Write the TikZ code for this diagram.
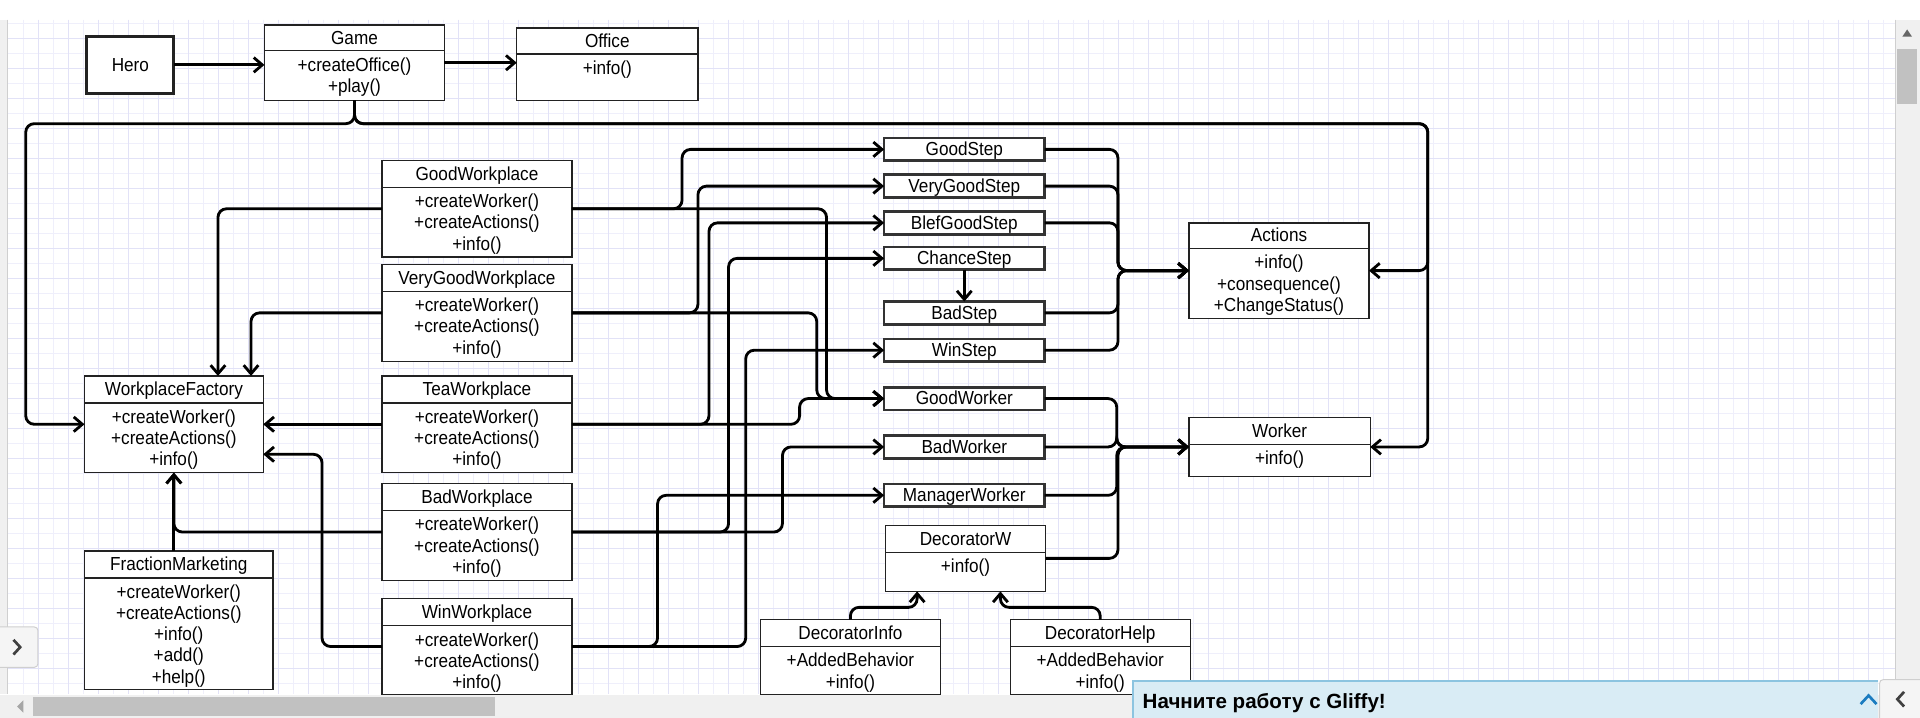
\documentclass[tikz,border=0pt]{standalone}
\usepackage{fontspec}
\setmainfont{Liberation Sans}[FakeStretch=0.91]
\newfontfamily\bannerfont{Liberation Sans}
\usetikzlibrary{arrows.meta,calc,fit}
\definecolor{gridminor}{HTML}{EFEFFB}
\definecolor{gridmajor}{HTML}{E2E2F7}
\definecolor{boxline}{HTML}{222222}
\definecolor{stepline}{HTML}{333333}
\definecolor{bannerbg}{HTML}{D9ECF5}
\definecolor{bannerline}{HTML}{8CC4E0}
\definecolor{caretblue}{HTML}{1B7CC0}
\definecolor{trackgray}{HTML}{F0F0F0}
\definecolor{thumbgray}{HTML}{C1C1C1}
\definecolor{edgegray}{HTML}{CFCFCF}
\newcommand\umlclass[8]{%
  \node[umlbox, fit={(#2,#3) (#4,#5)}] (#1) {};
  \draw[umlsep] (#2,#6) -- (#4,#6);
  \node[txt] (#1-title) at ({(#2+#4)/2},{(#3+#6)/2}) {#7};
  \foreach \t [count=\i from 0] in {#8} {
    \node[txt] (#1-l\i) at ({(#2+#4)/2},{#6+11.5+17.3*\i}) {\t};
  }
}
\begin{document}
\begin{tikzpicture}[x=1pt,y=-1pt,
  txt/.style={font=\fontsize{15.4}{17.3}\selectfont, inner sep=0pt, text height=11pt, text depth=0.8pt},
  umlbox/.style={draw=boxline, line width=1.1pt, fill=white, inner sep=0pt, outer sep=0pt},
  umlsep/.style={draw=boxline, line width=1.1pt},
  herobox/.style={draw=boxline, line width=2.4pt, fill=white, inner sep=0pt, outer sep=0pt},
  stepbox/.style={txt, draw=stepline, line width=2.2pt, fill=white, minimum width=131pt, minimum height=18.5pt, outer sep=0pt},
  conn/.style={draw=black, line width=2.3pt, rounded corners=7pt, -{Straight Barb[length=7pt,width=12pt]}}
]
\useasboundingbox (0,0) rectangle (1568,586);
\fill[white] (0,0) rectangle (1568,586);
% grid
\foreach \k in {1,...,125} \draw[gridminor, line width=0.8pt] ({6.78+12.25*\k},16.3) -- ({6.78+12.25*\k},567);
\foreach \k in {1,...,45} \draw[gridminor, line width=0.8pt] (6.5,{6.78+12.25*\k}) -- (1548,{6.78+12.25*\k});
\foreach \k in {2,4,...,124} \draw[gridmajor, line width=0.9pt] ({6.78+12.25*\k},16.3) -- ({6.78+12.25*\k},567);
\foreach \k in {2,4,...,44} \draw[gridmajor, line width=0.9pt] (6.5,{6.78+12.25*\k}) -- (1548,{6.78+12.25*\k});

% ---------- nodes ----------
\node[herobox, txt, fit={(71,30) (142,76)}] (hero) {};
\node[txt] (hero-title) at (hero.center) {Hero};
\umlclass{game}{216}{20.5}{363}{82}{41.5}{Game}{{+createOffice()},{+play()}}
\umlclass{office}{422}{23}{570}{82}{44}{Office}{{+info()}}

\umlclass{goodwp}{312}{131}{467}{210}{153}{GoodWorkplace}{{+createWorker()},{+createActions()},{+info()}}
\umlclass{vgwp}{312}{216}{467}{295}{238}{VeryGoodWorkplace}{{+createWorker()},{+createActions()},{+info()}}
\umlclass{teawp}{312}{307}{467}{386}{329}{TeaWorkplace}{{+createWorker()},{+createActions()},{+info()}}
\umlclass{badwp}{312}{395}{467}{474}{417}{BadWorkplace}{{+createWorker()},{+createActions()},{+info()}}
\umlclass{winwp}{312}{489}{467}{567}{511}{WinWorkplace}{{+createWorker()},{+createActions()},{+info()}}

\umlclass{wf}{69}{307}{215}{386}{329}{WorkplaceFactory}{{+createWorker()},{+createActions()},{+info()}}
\umlclass{fm}{69}{450}{223}{563}{472}{FractionMarketing}{{+createWorker()},{+createActions()},{+info()},{+add()},{+help()}}

\umlclass{actions}{971}{182}{1118}{260}{203}{Actions}{{+info()},{+consequence()},{+ChangeStatus()}}
\umlclass{worker}{971}{341}{1119}{389}{363}{Worker}{{+info()}}

\umlclass{decw}{723}{429}{854}{483}{451}{DecoratorW}{{+info()}}
\umlclass{decinfo}{621}{506}{768}{567}{528}{DecoratorInfo}{{+AddedBehavior},{+info()}}
\umlclass{dechelp}{825}{506}{972}{567}{528}{DecoratorHelp}{{+AddedBehavior},{+info()}}

\node[stepbox] (goodstep) at (787.5,122) {GoodStep};
\node[stepbox] (vgstep) at (787.5,152) {VeryGoodStep};
\node[stepbox] (blefstep) at (787.5,182) {BlefGoodStep};
\node[stepbox] (chancestep) at (787.5,211) {ChanceStep};
\node[stepbox] (badstep) at (787.5,255.5) {BadStep};
\node[stepbox] (winstep) at (787.5,286) {WinStep};
\node[stepbox] (goodworker) at (787.5,325.5) {GoodWorker};
\node[stepbox] (badworker) at (787.5,365) {BadWorker};
\node[stepbox] (managerworker) at (787.5,404.5) {ManagerWorker};

% ---------- connectors ----------
\coordinate (busL) at (21,101);
\coordinate (busR) at (1166,101);
\draw[conn] (hero.east) -- (hero.east -| game.west);
\draw[conn] (game.east) -- (game.east -| office.west);
\draw[conn] (game.south) |- (busL) |- (wf.west);
\draw[conn] (game.south) |- (busR) |- (actions.east);
\draw[conn] (game.south) |- (busR) |- (worker.east);

\draw[conn] (goodwp.west) -| ($(wf.north)+(36,0)$);
\draw[conn] (vgwp.west) -| ($(wf.north)+(63,0)$);
\draw[conn] (teawp.west) -- (wf.east);
\draw[conn] (badwp.west) -| (wf.south);
\draw[conn] (fm.north -| wf.south) -- (wf.south);
\draw[conn] (winwp.west) -- ++(-49,0) |- ($(wf.east)+(0,24.5)$);

\draw[conn] (goodwp.east) -- ++(90,0) |- (goodstep.west);
\draw[conn] (goodwp.east) -- ++(208,0) |- (goodworker.west);
\draw[conn] (vgwp.east) -- ++(103,0) |- (vgstep.west);
\draw[conn] (vgwp.east) -- ++(200,0) |- (goodworker.west);
\draw[conn] (teawp.east) -- ++(112,0) |- (blefstep.west);
\draw[conn] (teawp.east) -- ++(186,0) |- (goodworker.west);
\draw[conn] (badwp.east) -- ++(128,0) |- (chancestep.west);
\draw[conn] (badwp.east) -- ++(172,0) |- (badworker.west);
\draw[conn] (winwp.east) -- ++(142,0) |- (winstep.west);
\draw[conn] (winwp.east) -- ++(70,0) |- (managerworker.west);

\draw[conn] (chancestep.south) -- (badstep.north);

\foreach \s in {goodstep,vgstep,blefstep,badstep,winstep}
  \draw[conn] (\s.east) -- ++(60,0) |- (actions.west);
\foreach \s in {goodworker,badworker,managerworker,decw}
  \draw[conn] (\s.east) -- ++(59,0) |- (worker.west);

\draw[conn] (decinfo.north) -- ++(0,-10) -| ($(decw.south)+(-39.5,0)$);
\draw[conn] (dechelp.north) -- ++(0,-10) -| ($(decw.south)+(28.5,0)$);

% ---------- window chrome ----------
\fill[trackgray] (0,16) rectangle (6,567);
\draw[edgegray, line width=0.8pt] (6,16) -- (6,567);
% vertical scrollbar
\fill[trackgray] (1548,16) rectangle (1568,556);
\draw[edgegray, line width=0.6pt] (1548,16) -- (1548,556);
\fill[thumbgray] (1549.5,40) rectangle (1565.5,85);
\fill[gray!80!black] (1553.5,30) -- (1561.5,30) -- (1557.5,24) -- cycle;
% horizontal scrollbar
\fill[trackgray] (0,567.5) rectangle (1548,586);
\fill[thumbgray] (27,569.5) rectangle (404,584.5);
\fill[gray!70] (19,572) -- (19,582) -- (14,577) -- cycle;
% left button
\draw[edgegray, fill=white!96!black, line width=0.8pt, rounded corners=3pt] (-4,512) rectangle (31,545);
\draw[black!75, line width=2.2pt] (11,522.5) -- (16.5,528.5) -- (11,534.5);
% banner
\fill[bannerbg] (925,556) rectangle (1534,586);
\draw[bannerline, line width=1.6pt] (925,586) -- (925,556) -- (1534,556);
\node[inner sep=0pt, font=\bannerfont\bfseries\fontsize{16.8}{18}\selectfont, text height=12pt, text depth=1pt, anchor=west] (banner) at (933,573.5) {Начните работу с Gliffy!};
\draw[caretblue, line width=2.2pt] (1519.5,575) -- (1526,568) -- (1532.5,575);
% right button
\draw[edgegray, fill=white!96!black, line width=0.8pt, rounded corners=3pt] (1535,555) rectangle (1572,590);
\draw[black!75, line width=2.2pt] (1555,565) -- (1549.5,571) -- (1555,577);
\end{tikzpicture}
\end{document}
